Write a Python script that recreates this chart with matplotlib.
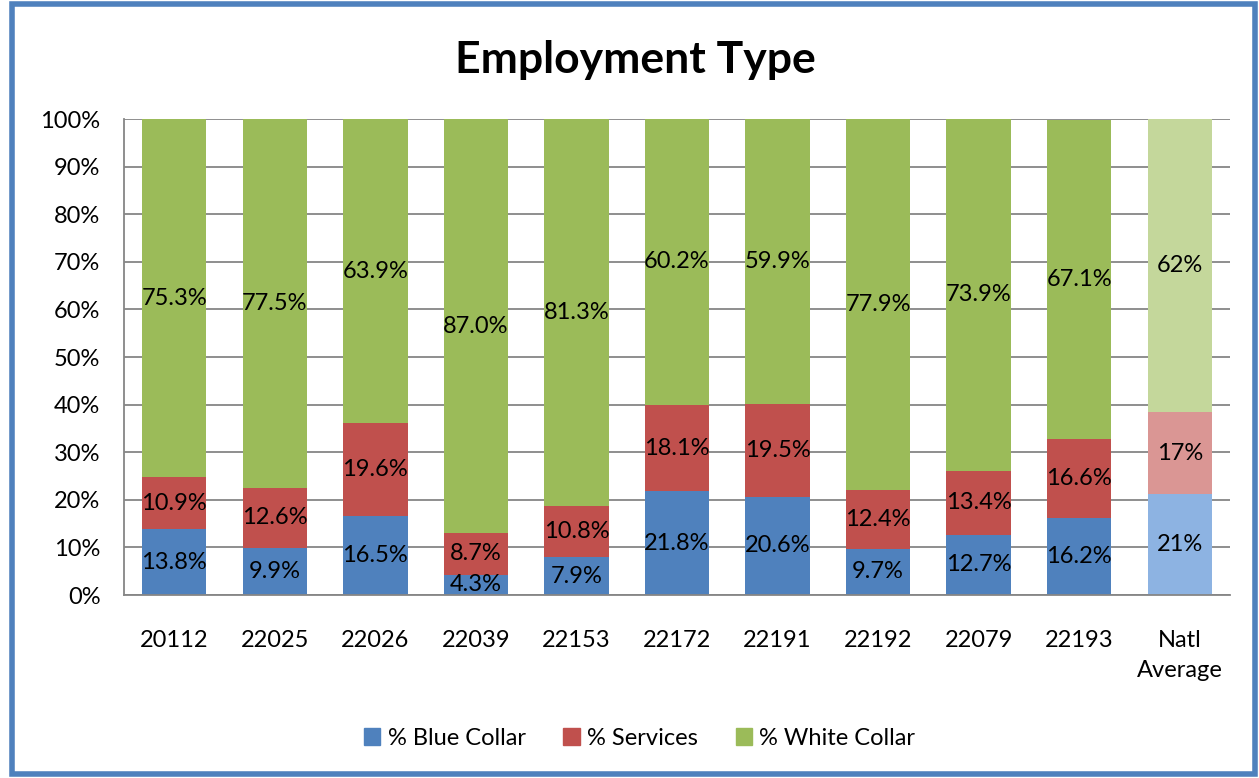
import matplotlib.pyplot as plt
from matplotlib.patches import Rectangle, Patch

plt.rcParams['font.family'] = ['Lato', 'DejaVu Sans']

# Data
zips = ['20112', '22025', '22026', '22039', '22153', '22172', '22191',
        '22192', '22079', '22193', 'Natl\nAverage']
blue_collar = [13.8, 9.9, 16.5, 4.3, 7.9, 21.8, 20.6, 9.7, 12.7, 16.2, 21.2]
services = [10.9, 12.6, 19.6, 8.7, 10.8, 18.1, 19.5, 12.4, 13.4, 16.6, 17.2]
white_collar = [75.3, 77.5, 63.9, 87.0, 81.3, 60.2, 59.9, 77.9, 73.9, 67.1, 61.6]
label_decimals = [1, 1, 1, 1, 1, 1, 1, 1, 1, 1, 0]

series = [
    ('% Blue Collar', blue_collar, '#4F81BD', '#8DB3E2'),
    ('% Services', services, '#C0504D', '#DA9694'),
    ('% White Collar', white_collar, '#9BBB59', '#C4D79B'),
]

fig = plt.figure(figsize=(12.59, 7.78), dpi=100)
ax = fig.add_axes([0.0985, 0.2352, 0.8785, 0.6118])

# Blue border round the whole chart
fig.patches.append(Rectangle((0.0095, 0.005), 0.987, 0.99, transform=fig.transFigure,
                             fill=False, edgecolor='#4F81BD', linewidth=4))

x = list(range(len(zips)))
bottom = [0.0] * len(zips)
handles = []
for name, vals, color, natl_color in series:
    colors = [color] * (len(zips) - 1) + [natl_color]
    ax.bar(x, vals, bottom=bottom, width=0.64, color=colors, zorder=2)
    for i, v in enumerate(vals):
        txt = f'{v:.{label_decimals[i]}f}%'
        ax.text(i, bottom[i] + v / 2, txt, ha='center', va='center',
                fontsize=17, color='black', zorder=3)
    bottom = [b + v for b, v in zip(bottom, vals)]
    handles.append(Patch(color=color, label=name))

ax.set_xlim(-0.5, len(zips) - 0.5)
ax.set_ylim(0, 100)
ax.set_yticks(range(0, 101, 10))
ax.set_yticklabels([f'{t}%' for t in range(0, 101, 10)], fontsize=17)
ax.set_xticks(x)
ax.set_xticklabels(zips, fontsize=17, linespacing=1.55)
ax.tick_params(length=0)
ax.tick_params(axis='x', pad=25)
ax.tick_params(axis='y', pad=17)
ax.yaxis.grid(True, color='#868686', linewidth=1.3, zorder=0)
ax.set_axisbelow(True)
for side in ['top', 'right']:
    ax.spines[side].set_visible(False)
for side in ['left', 'bottom']:
    ax.spines[side].set_color('#868686')
    ax.spines[side].set_linewidth(1.3)

fig.text(0.505, 0.923, 'Employment Type', ha='center', va='center',
         fontsize=32, fontweight='bold')

fig.legend(handles=handles, loc='center', bbox_to_anchor=(0.508, 0.051), ncol=3,
           frameon=False, fontsize=17, handlelength=0.7, handleheight=0.7,
           handletextpad=0.3, columnspacing=1.6)

plt.savefig('out.png', dpi=100)
